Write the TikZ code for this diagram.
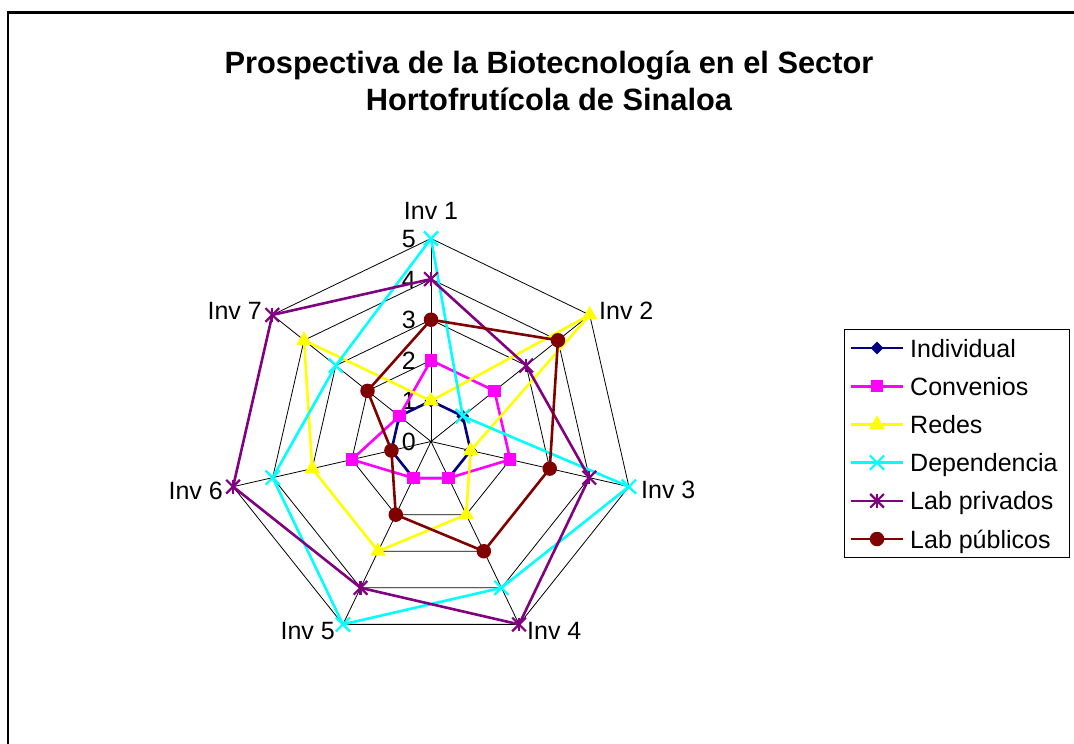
\documentclass[tikz,border=0pt]{standalone}
\usepackage{fontspec}
\setmainfont{Liberation Sans}
\usetikzlibrary{shapes.geometric,shapes.misc}
\definecolor{cind}{RGB}{0,0,128}
\definecolor{cconv}{RGB}{255,0,255}
\definecolor{cred}{RGB}{255,255,0}
\definecolor{cdep}{RGB}{0,255,255}
\definecolor{clpr}{RGB}{128,0,128}
\definecolor{clpu}{RGB}{128,0,0}
\tikzset{
  gridline/.style={line width=0.8pt, black},
  serie/.style={line width=2.6pt, line join=round},
  mind/.style={diamond, fill=cind, inner sep=0pt, minimum size=13pt},
  mconv/.style={rectangle, fill=cconv, inner sep=0pt, minimum size=12.5pt},
  mred/.style={regular polygon, regular polygon sides=3, fill=cred, inner sep=0pt, minimum size=18pt},
  mdep/.style={cross out, draw=cdep, line width=2.2pt, inner sep=0pt, minimum size=12pt},
  mlpr/.style={cross out, draw=clpr, line width=2.2pt, inner sep=0pt, minimum size=11.5pt},
  mlpu/.style={circle, fill=clpu, inner sep=0pt, minimum size=14.5pt},
  lbl/.style={font=\fontsize{25}{29}\selectfont, inner sep=0pt},
  ttl/.style={font=\fontsize{30.8}{36}\selectfont\bfseries, inner sep=0pt},
}
\begin{document}
\begin{tikzpicture}[x=1pt,y=-1pt]
\useasboundingbox (0,0) rectangle (1074,744);
\fill[white] (0,0) rectangle (1074,744);
% frame
\coordinate (f1) at (8,744);
\coordinate (f2) at (8,12.5);
\coordinate (f3) at (1074,12.5);
\draw[line width=2.3pt] (f1) -- (f2) -- (f3);
% title
\node[ttl, anchor=base] (t1) at (549,73.5) {Prospectiva de la Biotecnología en el Sector};
\node[ttl, anchor=base] (t2) at (549,110.5) {Hortofrutícola de Sinaloa};
% tick labels
\foreach \i in {0,...,5}
  \node[lbl, anchor=base east] (tick\i) at (416,{441.5-\i*40.6+9}) {\i};
% axis labels
\node[lbl, anchor=base] (inv1) at (431,219) {Inv 1};
\node[lbl, anchor=base west] (inv2) at (599,319) {Inv 2};
\node[lbl, anchor=base west] (inv3) at (641,498) {Inv 3};
\node[lbl, anchor=base west] (inv4) at (527,639) {Inv 4};
\node[lbl, anchor=base east] (inv5) at (335,639) {Inv 5};
\node[lbl, anchor=base east] (inv6) at (223,499) {Inv 6};
\node[lbl, anchor=base east] (inv7) at (262,319) {Inv 7};
\begin{scope}[shift={(431,441.5)}, x=1pt, y=1pt]
  \def\U{40.6}
  \coordinate (O) at (0,0);
  % grid rings
  \foreach \i in {1,...,5}
    \draw[gridline] (90:{\i*\U}) \foreach \k in {1,...,6}{ -- ({90-\k*360/7}:{\i*\U})} -- cycle;
  % spokes
  \foreach \k in {1,...,7}{
    \coordinate (ax\k) at ({90-(\k-1)*360/7}:{5*\U});
    \draw[gridline] (O) -- (ax\k);
  }
  % Individual
  \foreach \v [count=\k] in {1,1,1,1,1,1,1} \coordinate (ind\k) at ({90-(\k-1)*360/7}:{\v*\U});
  \draw[serie, cind] (ind1) -- (ind2) -- (ind3) -- (ind4) -- (ind5) -- (ind6) -- (ind7) -- cycle;
  \foreach \k in {1,...,7} \node[mind] (indm\k) at (ind\k) {};
  % Convenios
  \foreach \v [count=\k] in {2,2,2,1,1,2,1} \coordinate (conv\k) at ({90-(\k-1)*360/7}:{\v*\U});
  \draw[serie, cconv] (conv1) -- (conv2) -- (conv3) -- (conv4) -- (conv5) -- (conv6) -- (conv7) -- cycle;
  \foreach \k in {1,...,7} \node[mconv] (convm\k) at (conv\k) {};
  % Redes
  \foreach \v [count=\k] in {1,5,1,2,3,3,4} \coordinate (red\k) at ({90-(\k-1)*360/7}:{\v*\U});
  \draw[serie, cred] (red1) -- (red2) -- (red3) -- (red4) -- (red5) -- (red6) -- (red7) -- cycle;
  \foreach \k in {1,...,7} \node[mred] (redm\k) at (red\k) {};
  % Dependencia
  \foreach \v [count=\k] in {5,1,5,4,5,4,3} \coordinate (dep\k) at ({90-(\k-1)*360/7}:{\v*\U});
  \draw[serie, cdep] (dep1) -- (dep2) -- (dep3) -- (dep4) -- (dep5) -- (dep6) -- (dep7) -- cycle;
  \foreach \k in {1,...,7} \node[mdep] (depm\k) at (dep\k) {};
  % Lab privados
  \foreach \v [count=\k] in {4,3,4,5,4,5,5} \coordinate (lpr\k) at ({90-(\k-1)*360/7}:{\v*\U});
  \draw[serie, clpr] (lpr1) -- (lpr2) -- (lpr3) -- (lpr4) -- (lpr5) -- (lpr6) -- (lpr7) -- cycle;
  \foreach \k in {1,...,7}{
    \node[mlpr] (lprm\k) at (lpr\k) {};
    \draw[clpr, line width=2.2pt] (lprm\k.north) -- (lprm\k.south);
  }
  % Lab publicos
  \foreach \v [count=\k] in {3,4,3,3,2,1,2} \coordinate (lpu\k) at ({90-(\k-1)*360/7}:{\v*\U});
  \draw[serie, clpu] (lpu1) -- (lpu2) -- (lpu3) -- (lpu4) -- (lpu5) -- (lpu6) -- (lpu7) -- cycle;
  \foreach \k in {1,...,7} \node[mlpu] (lpum\k) at (lpu\k) {};
\end{scope}
% legend
\node[draw, line width=0.8pt, anchor=north west, inner sep=0pt, minimum width=225pt, minimum height=228pt] (legend) at (844,329) {};
\foreach \s/\t [count=\i] in {ind/Individual, conv/Convenios, red/Redes, dep/Dependencia, lpr/Lab privados, lpu/Lab públicos}{
  \coordinate (la\i) at (851,{348+(\i-1)*38.2});
  \coordinate (lb\i) at (903,{348+(\i-1)*38.2});
  \coordinate (lc\i) at (877,{348+(\i-1)*38.2});
  \draw[serie, c\s] (la\i) -- (lb\i);
  \node[m\s] (lm\i) at (lc\i) {};
  \node[lbl, anchor=base west] (lt\i) at (910,{348+(\i-1)*38.2+9}) {\t};
}
\draw[clpr, line width=2.2pt] (lm5.north) -- (lm5.south);
\end{tikzpicture}
\end{document}
